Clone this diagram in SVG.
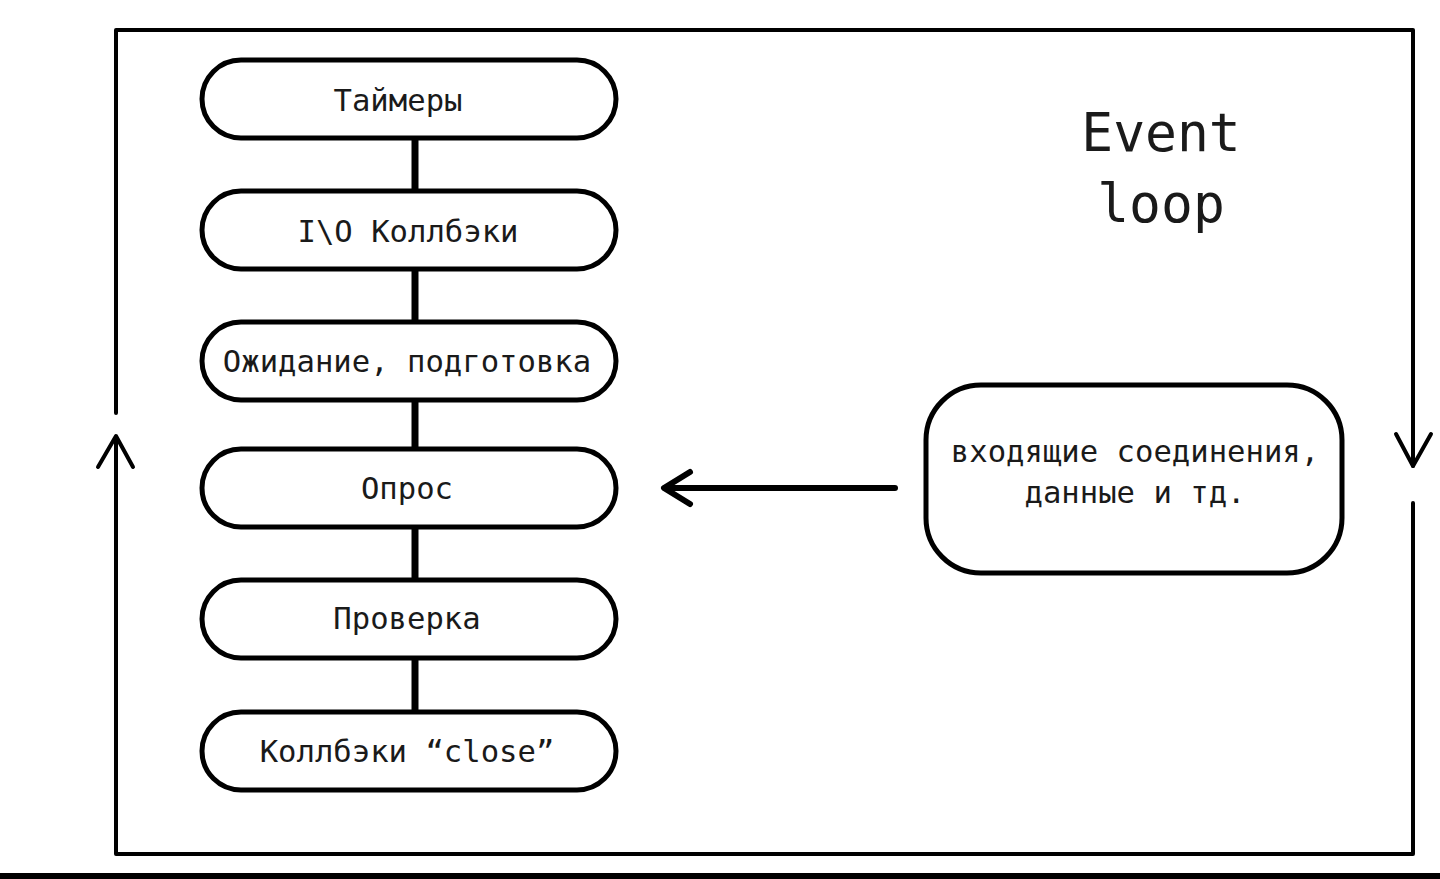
<svg xmlns="http://www.w3.org/2000/svg" width="1440" height="879" viewBox="0 0 1440 879">
<style>
.pill{fill:#fff;stroke:#000;stroke-width:5}
.t{font-family:"DejaVu Sans Mono","Liberation Mono",monospace;font-size:30.6px;fill:#1a1a1a;text-anchor:middle}
.big{font-size:53px}
.line{stroke:#000;fill:none;stroke-linecap:round;stroke-linejoin:round}
</style>
<rect width="1440" height="879" fill="#fff"/>
<g id="frame" class="line" stroke-width="4">
<polyline points="116,413 116,30 1413,30 1413,466"/>
<polyline points="98,467 116,436 133,467"/>
<polyline points="116,438 116,854 1413,854 1413,503"/>
<polyline points="1396,434 1413,466 1431,434"/>
</g>
<g id="connectors" stroke="#000" stroke-width="7">
<line x1="415" y1="138" x2="415" y2="190"/>
<line x1="415" y1="269" x2="415" y2="321"/>
<line x1="415" y1="400" x2="415" y2="449"/>
<line x1="415" y1="527" x2="415" y2="579"/>
<line x1="415" y1="658" x2="415" y2="711"/>
<g class="line" stroke-width="6">
<line x1="665" y1="488" x2="895" y2="488"/>
<polyline points="690,472 664,488 690,504"/>
</g>
</g>
<g id="n1"><rect class="pill" x="202" y="60" width="414" height="78" rx="39"/><text class="t" x="398" y="111">Таймеры</text></g>
<g id="n2"><rect class="pill" x="202" y="191" width="414" height="78" rx="39"/><text class="t" x="408" y="242">I\O Коллбэки</text></g>
<g id="n3"><rect class="pill" x="202" y="322" width="414" height="78" rx="39"/><text class="t" x="407" y="372">Ожидание, подготовка</text></g>
<g id="n4"><rect class="pill" x="202" y="449" width="414" height="78" rx="39"/><text class="t" x="407" y="499">Опрос</text></g>
<g id="n5"><rect class="pill" x="202" y="580" width="414" height="78" rx="39"/><text class="t" x="407" y="629">Проверка</text></g>
<g id="n6"><rect class="pill" x="202" y="712" width="414" height="78" rx="39"/><text class="t" x="407" y="762">Коллбэки “close”</text></g>
<g id="src"><rect class="pill" x="926" y="385" width="416" height="188" rx="55"/>
<text class="t" x="1135" y="462">входящие соединения,</text>
<text class="t" x="1135" y="503">данные и тд.</text></g>
<g id="title"><text class="t big" x="1161" y="151">Event</text><text class="t big" x="1161" y="222">loop</text></g>
<rect x="0" y="873" width="1440" height="6" fill="#000"/>
</svg>
